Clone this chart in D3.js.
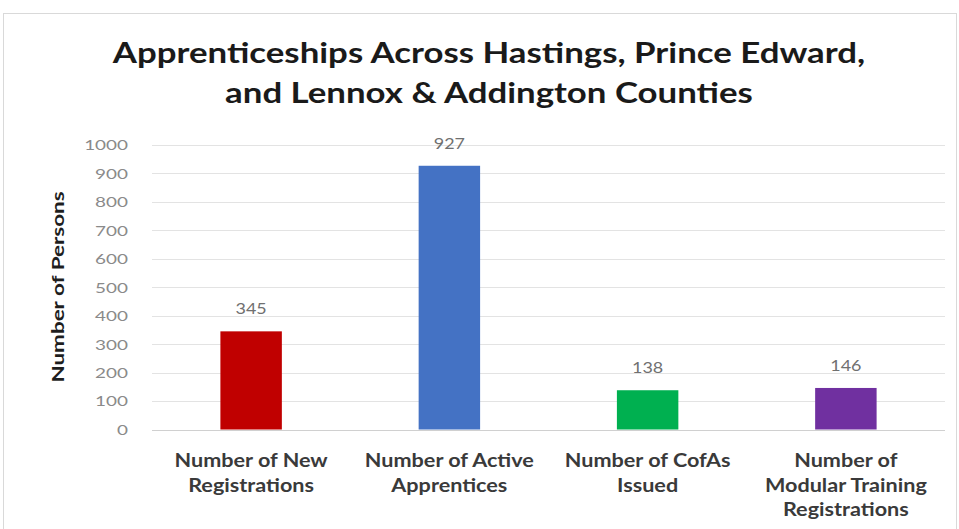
<!DOCTYPE html>
<html><head><meta charset="utf-8">
<script src="https://cdn.jsdelivr.net/npm/d3@7"></script>
<style>body{margin:0;background:#fff;} svg{display:block;}</style>
</head><body>
<svg id="c" width="959" height="529"></svg>
<script>
const categories = [
  ["Number of New","Registrations"],
  ["Number of Active","Apprentices"],
  ["Number of CofAs","Issued"],
  ["Number of","Modular Training","Registrations"]
];
const values = [345, 927, 138, 146];
const colors = ["#C00000","#4472C4","#00B050","#7030A0"];
const yTicks = [0,100,200,300,400,500,600,700,800,900,1000];
const titleLines = ["Apprenticeships Across Hastings, Prince Edward,","and Lennox & Addington Counties"];
const yTitle = "Number of Persons";

const svg = d3.select("#c");
const font = "Lato, 'Open Sans', sans-serif";
function stretch(sel, f){
  sel.each(function(){
    const w = this.getComputedTextLength();
    d3.select(this).attr("textLength", w*f).attr("lengthAdjust","spacingAndGlyphs");
  });
}
svg.append("rect").attr("x",3.5).attr("y",13.5).attr("width",953).attr("height",520)
  .attr("fill","#fff").attr("stroke","#d9d9d9");

const m = {left:152, right:945, top:145, bottom:429.5};
const x = d3.scaleBand().domain(d3.range(categories.length)).range([m.left, m.right]).paddingInner(0.69).paddingOuter(0.345);
const y = d3.scaleLinear().domain([0,1000]).range([m.bottom, m.top]);

// gridlines
svg.append("g").selectAll("line").data(yTicks).join("line")
  .attr("x1",m.left).attr("x2",m.right)
  .attr("y1",d=>Math.round(y(d))+0.5).attr("y2",d=>Math.round(y(d))+0.5)
  .attr("stroke",d=>d===0?"#d0d0d0":"#e3e3e3").attr("stroke-width",1);

// y axis labels
const ya = svg.append("g").attr("transform",`translate(128,0)`)
  .call(d3.axisLeft(y).tickValues(yTicks).tickFormat(d3.format("d")).tickSize(0).tickPadding(0));
ya.select(".domain").remove();
ya.selectAll("text").attr("font-family",font).attr("font-size",14).attr("fill","#8a8a8a").attr("dy","0.35em");
stretch(ya.selectAll("text"), 1.35);

// bars
svg.append("g").selectAll("rect").data(values).join("rect")
  .attr("x",(d,i)=>x(i)).attr("width",x.bandwidth())
  .attr("y",d=>y(d)).attr("height",d=>y(0)-y(d))
  .attr("fill",(d,i)=>colors[i]);

// value labels
const vl = svg.append("g").selectAll("text").data(values).join("text")
  .attr("x",(d,i)=>x(i)+x.bandwidth()/2).attr("y",d=>y(d)-17)
  .attr("text-anchor","middle").attr("font-family",font).attr("font-size",16)
  .attr("fill","#707070").text(d=>d);
stretch(vl, 1.12);

// category labels
const cg = svg.append("g");
categories.forEach((lines,i)=>{
  lines.forEach((l,j)=>{
    cg.append("text").attr("x",x(i)+x.bandwidth()/2).attr("y",467+j*24.5)
      .attr("text-anchor","middle").attr("font-family",font).attr("font-weight",700)
      .attr("font-size",18).attr("fill","#3a3a3a").text(l);
  });
});
stretch(cg.selectAll("text"), 1.2);

// y title
const yt = svg.append("text").attr("transform","translate(64,287) rotate(-90)")
  .attr("text-anchor","middle").attr("font-family",font).attr("font-weight",700)
  .attr("font-size",17).attr("fill","#1e1e1e").text(yTitle);
stretch(yt, 1.32);

// title
const tt = svg.append("g");
titleLines.forEach((l,j)=>{
  tt.append("text").attr("x",489).attr("y",63+j*40).attr("text-anchor","middle")
    .attr("font-family",font).attr("font-weight",700).attr("font-size",29)
    .attr("fill","#1a1a1a").text(l);
});
stretch(tt.selectAll("text"), 1.2);
</script>
</body></html>
